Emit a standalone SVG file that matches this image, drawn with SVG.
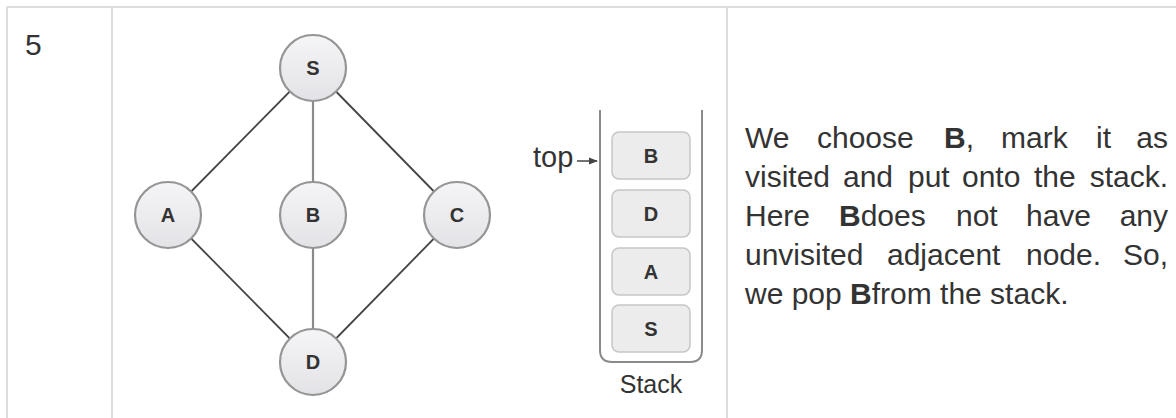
<svg xmlns="http://www.w3.org/2000/svg" width="1176" height="418" viewBox="0 0 1176 418">
  <defs>
    <linearGradient id="nodeFill" x1="0" y1="0" x2="0" y2="1">
      <stop offset="0" stop-color="#f5f5f7"/>
      <stop offset="1" stop-color="#e3e3e7"/>
    </linearGradient>
    <marker id="arrow" viewBox="0 0 10 10" refX="9" refY="5" markerWidth="6" markerHeight="6" orient="auto">
      <path d="M0,1 L10,5 L0,9 Z" fill="#444"/>
    </marker>
  </defs>
  <style>
    .grid { stroke: #dddddd; stroke-width: 2; fill: none; }
    .edge { stroke: #444444; stroke-width: 1.8; }
    .edge2 { stroke: #8a8a8a; stroke-width: 2.2; }
    .node circle { fill: url(#nodeFill); stroke: #959595; stroke-width: 2.2; }
    .nlabel { font-family: "Liberation Sans", Arial, sans-serif; font-weight: bold; font-size: 20px; fill: #333; text-anchor: middle; }
    .box rect { fill: #ececec; stroke: #c6c6c6; stroke-width: 1.5; }
    .blabel { font-family: "Liberation Sans", Arial, sans-serif; font-weight: bold; font-size: 20px; fill: #333; text-anchor: middle; }
    .body { font-family: "Liberation Sans", Arial, sans-serif; font-size: 30px; fill: #333; }
    .b { font-weight: bold; }
    .end { text-anchor: end; }
  </style>
  <rect width="1176" height="418" fill="#ffffff"/>

  <!-- table borders -->
  <g id="table">
    <line class="grid" x1="7" y1="7" x2="1176" y2="7"/>
    <line class="grid" x1="7" y1="7" x2="7" y2="418"/>
    <line class="grid" x1="112" y1="7" x2="112" y2="418"/>
    <line class="grid" x1="727" y1="7" x2="727" y2="418"/>
  </g>

  <text id="step" class="body" x="25" y="55">5</text>

  <!-- connectors -->
  <g id="connectors">
    <line class="edge" x1="313" y1="68" x2="168" y2="215"/>
    <line class="edge2" x1="313" y1="68" x2="313" y2="215"/>
    <line class="edge" x1="313" y1="68" x2="457" y2="215"/>
    <line class="edge" x1="168" y1="215" x2="313" y2="362"/>
    <line class="edge2" x1="313" y1="215" x2="313" y2="362"/>
    <line class="edge" x1="457" y1="215" x2="313" y2="362"/>
  </g>

  <!-- graph nodes -->
  <g id="node-S" class="node"><circle cx="313" cy="68" r="33"/><text class="nlabel" x="313" y="75">S</text></g>
  <g id="node-A" class="node"><circle cx="168" cy="215" r="33"/><text class="nlabel" x="168" y="222">A</text></g>
  <g id="node-B" class="node"><circle cx="313" cy="215" r="33"/><text class="nlabel" x="313" y="222">B</text></g>
  <g id="node-C" class="node"><circle cx="457" cy="215" r="33"/><text class="nlabel" x="457" y="222">C</text></g>
  <g id="node-D" class="node"><circle cx="313" cy="362" r="33"/><text class="nlabel" x="313" y="369">D</text></g>

  <!-- stack -->
  <g id="stack">
    <path d="M600,110 V350 Q600,362 612,362 H690 Q702,362 702,350 V110" fill="none" stroke="#8a8a8a" stroke-width="2"/>
    <g id="stack-B" class="box"><rect x="612" y="132" width="78" height="47" rx="7"/><text class="blabel" x="651" y="163">B</text></g>
    <g id="stack-D" class="box"><rect x="612" y="190" width="78" height="47" rx="7"/><text class="blabel" x="651" y="221">D</text></g>
    <g id="stack-A" class="box"><rect x="612" y="248" width="78" height="47" rx="7"/><text class="blabel" x="651" y="279">A</text></g>
    <g id="stack-S" class="box"><rect x="612" y="305" width="78" height="47" rx="7"/><text class="blabel" x="651" y="336">S</text></g>
    <text x="651" y="393" font-family="Liberation Sans, Arial, sans-serif" font-size="25" fill="#333" text-anchor="middle">Stack</text>
  </g>

  <g id="top-pointer">
    <text x="533" y="167" font-family="Liberation Sans, Arial, sans-serif" font-size="29" fill="#333">top</text>
    <line x1="577" y1="161" x2="597" y2="161" stroke="#444" stroke-width="1.5" marker-end="url(#arrow)"/>
  </g>

  <!-- description -->
  <g id="description" class="body">
    <text x="745" y="148">We</text>
    <text x="817" y="148">choose</text>
    <text x="944" y="148"><tspan class="b">B</tspan>,</text>
    <text x="1001" y="148">mark</text>
    <text x="1096" y="148">it</text>
    <text class="end" x="1168" y="148">as</text>

    <text x="745" y="187">visited</text>
    <text x="843" y="187">and</text>
    <text x="908" y="187">put</text>
    <text x="962" y="187">onto</text>
    <text x="1034" y="187">the</text>
    <text class="end" x="1168" y="187">stack.</text>

    <text x="745" y="226">Here</text>
    <text x="839" y="226"><tspan class="b">B</tspan>does</text>
    <text x="956" y="226">not</text>
    <text x="1026" y="226">have</text>
    <text class="end" x="1168" y="226">any</text>

    <text x="745" y="265">unvisited</text>
    <text x="887" y="265">adjacent</text>
    <text x="1026" y="265">node.</text>
    <text class="end" x="1168" y="265">So,</text>

    <text x="745" y="304">we pop <tspan class="b">B</tspan>from the stack.</text>
  </g>
</svg>
